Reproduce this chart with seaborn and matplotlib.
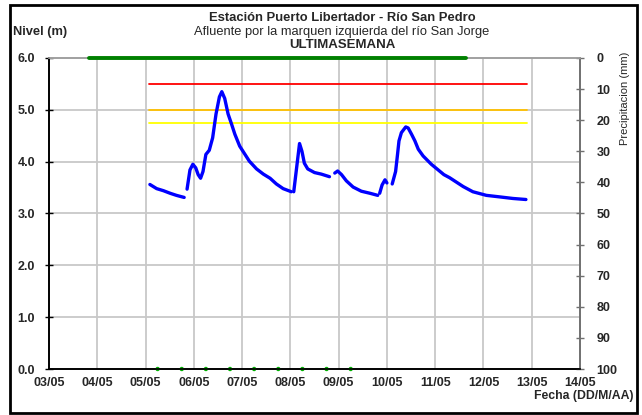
import numpy as np
import pandas as pd
import matplotlib
matplotlib.use("Agg")
import matplotlib.pyplot as plt
import matplotlib.dates as mdates
from matplotlib.patches import Rectangle
import seaborn as sns

# ── data (day of May as decimal) ─────────────────────────────────────
nivel_dia = [5.09, 5.23, 5.37, 5.51, 5.64, 5.80, np.nan,
             5.86, 5.92, 5.98, 6.04, 6.09, 6.14, 6.19, 6.25, 6.32, 6.39, 6.46,
             6.53, 6.58, 6.64, 6.71, 6.78, 6.85, 6.95, 7.06, 7.15, 7.30, 7.44,
             7.58, 7.71, 7.85, 8.02, np.nan,
             8.07, 8.19, 8.24, 8.29, 8.36, 8.50, 8.64, 8.81, np.nan,
             8.92, 8.98, 9.06, 9.16, 9.30, 9.47, 9.65, 9.81, np.nan,
             9.85, 9.90, 9.96, 10.00, np.nan,
             10.11, 10.18, 10.22, 10.25, 10.30, 10.39, 10.44, 10.51, 10.58,
             10.65, 10.75, 10.92, 11.18, 11.30, 11.58, 11.78, 12.06, 12.34,
             12.61, 12.88]
nivel_m = [3.56, 3.48, 3.44, 3.39, 3.35, 3.31, np.nan,
           3.47, 3.84, 3.95, 3.88, 3.75, 3.68, 3.81, 4.14, 4.22, 4.46, 4.92,
           5.25, 5.35, 5.22, 4.92, 4.73, 4.53, 4.30, 4.14, 4.01, 3.86, 3.76,
           3.68, 3.57, 3.48, 3.42, np.nan,
           3.42, 4.35, 4.20, 3.97, 3.86, 3.79, 3.76, 3.71, np.nan,
           3.78, 3.82, 3.75, 3.63, 3.51, 3.43, 3.39, 3.35, np.nan,
           3.39, 3.55, 3.65, 3.59, np.nan,
           3.57, 3.81, 4.14, 4.40, 4.56, 4.67, 4.65, 4.53, 4.40,
           4.24, 4.11, 3.95, 3.75, 3.69, 3.52, 3.42, 3.35, 3.32,
           3.29, 3.27]

umbral_dia = [5.07, 12.90]
umbral_rojo = 5.50
umbral_naranja = 5.00
umbral_amarillo = 4.75

precip_dia = [3.83, 4.83, 5.83, 6.83, 7.83, 8.83, 9.83, 10.83, 11.63]
precip_mm = [0, 0, 0, 0, 0, 0, 0, 0, 0]

marca_dia = [5.25, 5.75, 6.25, 6.75, 7.25, 7.75, 8.25, 8.75, 9.25]
marca_nivel = [0, 0, 0, 0, 0, 0, 0, 0, 0]

base = pd.Timestamp("2021-04-30")
def fecha(d):
    return base + pd.to_timedelta(np.asarray(d, dtype=float), unit="D")

df = pd.DataFrame({"fecha": fecha(nivel_dia), "nivel": nivel_m})
df["tramo"] = df["nivel"].isna().cumsum()
df = df.dropna()

# ── style ─────────────────────────────────────────────────
sns.set_style("white")
plt.rcParams['font.family'] = ['Liberation Sans', 'DejaVu Sans']
plt.rcParams['font.size'] = 9

fig = plt.figure(figsize=(6.42, 4.15), dpi=100)
W, H = 642, 415
ax = fig.add_axes([49 / W, 1 - 369 / H, 531 / W, 311 / H])
ax2 = ax.twinx()

grid_c = "#c8c8c8"
for d in range(4, 14):
    ax.axvline(base + pd.Timedelta(days=d), color=grid_c, lw=1.3, zorder=0)
for v in range(1, 6):
    ax.axhline(v, color=grid_c, lw=1.3, zorder=0)

# threshold lines
for val, col in [(umbral_rojo, "#ff0000"), (umbral_naranja, "#ffc000"),
                 (umbral_amarillo, "#ffff00")]:
    sns.lineplot(x=fecha(umbral_dia), y=[val, val], color=col, lw=1.3, ax=ax)

sns.lineplot(data=df, x="fecha", y="nivel", units="tramo", estimator=None,
             color="#0000ff", lw=2.4, ax=ax)
sns.scatterplot(x=fecha(marca_dia), y=marca_nivel, color="#00b000", s=10,
                edgecolor="none", ax=ax, zorder=5, clip_on=False)

sns.lineplot(x=fecha(precip_dia), y=precip_mm, color="#008000", lw=2.8, ax=ax2)
for ln in ax2.lines:
    ln.set_clip_on(False)
    ln.set_zorder(10)

ax.set_xlim(base + pd.Timedelta(days=3), base + pd.Timedelta(days=14))
ax.set_ylim(0, 6)
ax.set_yticks(np.arange(0, 6.1, 1))
ax.yaxis.set_major_formatter(matplotlib.ticker.FormatStrFormatter("%.1f"))
ax.xaxis.set_major_locator(mdates.DayLocator())
ax.xaxis.set_major_formatter(mdates.DateFormatter("%d/%m"))
ax.set_xlabel("")
ax.set_ylabel("")

ax2.set_ylim(100, 0)
ax2.set_yticks(np.arange(0, 101, 10))
ax2.set_ylabel("")

ax.tick_params(axis="both", direction="inout", length=6, width=1,
               labelsize=9, color="black")
ax.tick_params(axis="y", pad=7)
ax.tick_params(axis="x", pad=3)
ax2.tick_params(axis="y", direction="inout", length=6, width=1, pad=9,
                labelsize=9, color="#707070")
for lab in ax.get_xticklabels() + ax.get_yticklabels() + ax2.get_yticklabels():
    lab.set_fontweight("bold")

for a in (ax, ax2):
    a.spines["left"].set_color("black")
    a.spines["bottom"].set_color("black")
    a.spines["top"].set_color("#a0a0a0")
    a.spines["right"].set_color("#707070")
    for s in a.spines.values():
        s.set_linewidth(1.2)

# ── texts ─────────────────────────────────────────────────
fig.text(342 / W, 1 - 18 / H, "Estación Puerto Libertador - Río San Pedro",
         ha="center", va="center", fontsize=9.4, fontweight="bold")
fig.text(342 / W, 1 - 32 / H, "Afluente por la marquen izquierda del río San Jorge",
         ha="center", va="center", fontsize=9.3)
fig.text(342 / W, 1 - 45 / H, "ULTIMASEMANA", ha="center", va="center",
         fontsize=9.5, fontweight="bold")
fig.text(13 / W, 1 - 32 / H, "Nivel (m)", ha="left", va="center",
         fontsize=9.3, fontweight="bold")
fig.text(625 / W, 1 - 98 / H, "Precipitacion (mm)", ha="center", va="center",
         rotation=90, fontsize=8)
fig.text(634 / W, 1 - 396 / H, "Fecha (DD/M/AA)", ha="right", va="center",
         fontsize=8.8, fontweight="bold")

fig.patches.append(Rectangle((10 / W, 1 - 413 / H), 627 / W, 408 / H,
                             transform=fig.transFigure, fill=False,
                             edgecolor="black", lw=2))

fig.savefig("out.png", dpi=100)
